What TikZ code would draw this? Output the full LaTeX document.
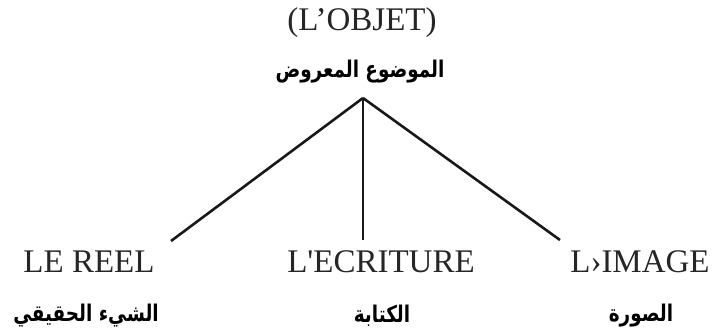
\documentclass[tikz,border=0pt]{standalone}
\usepackage{fontspec}
\setmainfont{Liberation Serif}
\newfontfamily\rawserif{Liberation Serif}[Ligatures=TeXOff]
\newfontfamily\arabicfont[Script=Arabic]{DejaVu Sans}
\TeXXeTstate=1
\begin{document}
\begin{tikzpicture}[x=1pt,y=-1pt,
  latin/.style={font=\rawserif\fontsize{33}{36}\selectfont, inner sep=0pt, text=black!85},
  arab/.style={font=\arabicfont\bfseries\fontsize{23}{26}\selectfont, inner sep=0pt, xscale=0.8, transform shape},
  branch/.style={line width=2.6pt, black!90}]
\useasboundingbox (0,0) rectangle (712,333);
\node[latin] (obj) at (362,23) {(L’OBJET)};
\node[arab] (objar) at (360,72) {\beginR الموضوع المعروض\endR};
\coordinate (apex) at (363,98);
\node[latin] (reel) at (89,262) {LE REEL};
\node[latin] (ecr) at (381,262) {L'ECRITURE};
\node[latin] (img) at (640,262) {L›IMAGE};
\node[arab] (reelar) at (86,316) {\beginR الشيء الحقيقي\endR};
\node[arab] (ecrar) at (382,316) {\beginR الكتابة\endR};
\node[arab] (imgar) at (641,316) {\beginR الصورة\endR};
\coordinate (lend) at (171,241);
\coordinate (mend) at (363,240);
\coordinate (rend) at (560,240);
\draw[branch] (apex) -- (lend);
\draw[branch] (apex) -- (mend);
\draw[branch] (apex) -- (rend);
\end{tikzpicture}
\end{document}
